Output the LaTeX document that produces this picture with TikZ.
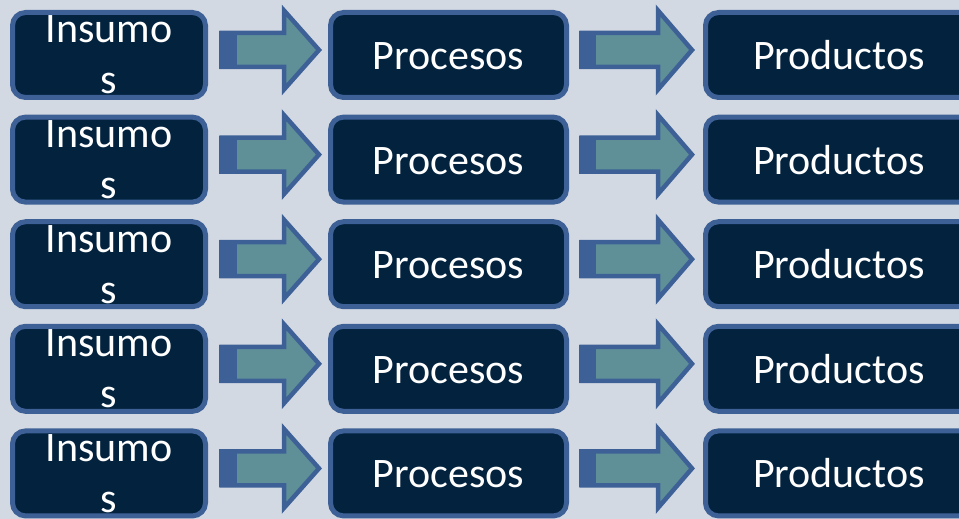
\documentclass[tikz,border=0pt]{standalone}
\usepackage{fontspec}
\setmainfont{Carlito}
\definecolor{bgc}{HTML}{D3D9E3}
\definecolor{boxfill}{HTML}{03223E}
\definecolor{boxline}{HTML}{3D6196}
\definecolor{teal}{HTML}{5F9098}
\tikzset{
  box/.style={draw=boxline, fill=boxfill, line width=5pt, rounded corners=13pt,
    minimum height=85pt, inner sep=0pt, outer sep=0pt},
  lbl/.style={text=white, font=\fontsize{42}{42}\selectfont, inner sep=0pt, anchor=base},
  blockarrow/.style={fill=teal, draw=boxline, line width=4.5pt, line join=miter},
  tailpart/.style={fill=boxline, draw=none}
}
\begin{document}
\begin{tikzpicture}[x=1pt,y=-1pt]
\useasboundingbox (0,0) rectangle (959,519);
\clip (0,0) rectangle (959,519);
\fill[bgc] (0,0) rectangle (959,519);
\foreach \r in {1,...,5}{
  \pgfmathsetmacro{\c}{55+104.6*(\r-1)}
  \pgfmathsetmacro{\a}{\c-5}
  % boxes
  \node[box, minimum width=193pt] (ins\r) at (109,\c) {};
  \node[box, minimum width=236pt] (pro\r) at (448.5,\c) {};
  \node[box, minimum width=267pt] (prd\r) at (839,\c) {};
  % labels
  \node[lbl] (ins\r a) at (109,\c-12) {Insumo};
  \node[lbl] (ins\r b) at (109,\c+39) {s};
  \node[lbl] (pro\r t) at (448.5,\c+14.5) {Procesos};
  \node[lbl] (prd\r t) at (839,\c+14.5) {Productos};
  % arrow 1
  \draw[blockarrow] (221.5,\a-17) -- (284,\a-17) -- (284,\a-39.5) -- (319,\a)
    -- (284,\a+39.5) -- (284,\a+17) -- (221.5,\a+17) -- cycle;
  \fill[tailpart] (219,\a-19) rectangle (237,\a+19);
  % arrow 2
  \draw[blockarrow] (581.5,\a-17) -- (658,\a-17) -- (658,\a-39.5) -- (692,\a)
    -- (658,\a+39.5) -- (658,\a+17) -- (581.5,\a+17) -- cycle;
  \fill[tailpart] (579,\a-19) rectangle (596,\a+19);
}
\end{tikzpicture}
\end{document}
